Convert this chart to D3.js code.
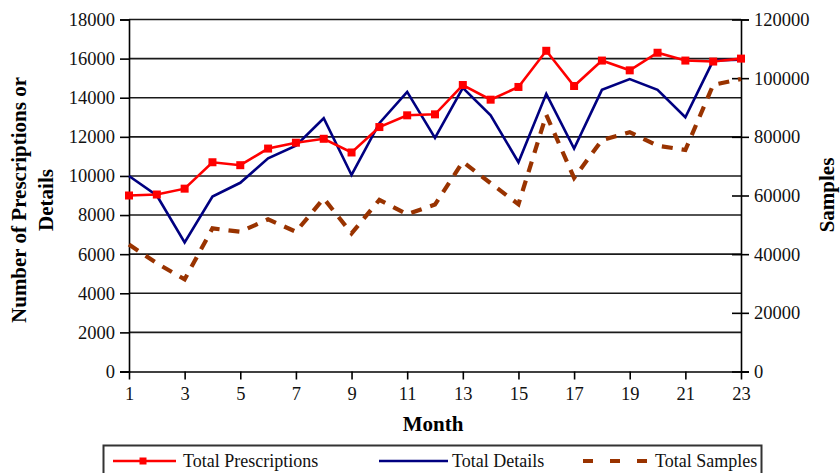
<!DOCTYPE html>
<html>
<head>
<meta charset="utf-8">
<script src="https://cdn.jsdelivr.net/npm/d3@7"></script>
<style>
  html, body { margin: 0; padding: 0; background: #fff; }
  svg { display: block; font-family: "Liberation Serif", "Times New Roman", serif; }
</style>
</head>
<body>
<svg id="chart" width="840" height="473"></svg>
<script>
// Monthly totals
const months = [1, 2, 3, 4, 5, 6, 7, 8, 9, 10, 11, 12, 13, 14, 15, 16, 17, 18, 19, 20, 21, 22, 23];
const monthTicks = [1, 3, 5, 7, 9, 11, 13, 15, 17, 19, 21, 23];
const prescriptions = [9000, 9050, 9350, 10700, 10550, 11400, 11700, 11900, 11200, 12500, 13100, 13150,
                       14650, 13900, 14550, 16400, 14600, 15900, 15400, 16300, 15900, 15850, 16000];
const details = [10000, 9000, 6600, 8950, 9650, 10900, 11550, 12950, 10050, 12700, 14300, 11950,
                 14500, 13100, 10700, 14200, 11400, 14400, 14950, 14400, 13000, 15900, 15950];
const samples = [43300, 36900, 31400, 48800, 47650, 51900, 47650, 59000, 47100, 58500, 53600, 56900,
                 71500, 64200, 57000, 87500, 66000, 78900, 81600, 77000, 75500, 97700, 99700];
const leftTicks = [0, 2000, 4000, 6000, 8000, 10000, 12000, 14000, 16000, 18000];
const rightTicks = [0, 20000, 40000, 60000, 80000, 100000, 120000];
const seriesNames = ["Total Prescriptions", "Total Details", "Total Samples"];

const svg = d3.select("#chart");
const plot = { left: 129, right: 741, top: 19.5, bottom: 371.5 };

const x = d3.scaleLinear().domain([1, 23]).range([plot.left, plot.right]);
const yL = d3.scaleLinear().domain([0, 18000]).range([plot.bottom, plot.top]);
const yR = d3.scaleLinear().domain([0, 120000]).range([plot.bottom, plot.top]);

// horizontal gridlines on the left-axis ticks
svg.append("g")
  .selectAll("line")
  .data(leftTicks.filter(d => d > 0))
  .join("line")
  .attr("x1", plot.left).attr("x2", plot.right)
  .attr("y1", d => yL(d)).attr("y2", d => yL(d))
  .attr("stroke", "#1a1a1a").attr("stroke-width", 1.6);

// left axis
const gL = svg.append("g").attr("transform", `translate(${plot.left},0)`)
  .call(d3.axisLeft(yL).tickValues(leftTicks).tickSize(9).tickPadding(5).tickFormat(d3.format("d")));
// bottom axis
const gB = svg.append("g").attr("transform", `translate(0,${plot.bottom})`)
  .call(d3.axisBottom(x).tickValues(monthTicks).tickSize(8).tickPadding(7).tickFormat(d3.format("d")));
// right axis, ticks crossing the line
const gR = svg.append("g").attr("transform", `translate(${plot.right},0)`)
  .call(d3.axisRight(yR).tickValues(rightTicks).tickSize(8).tickPadding(5).tickFormat(d3.format("d")));
gR.selectAll(".tick line").attr("x1", -9);

[gL, gB, gR].forEach(g => {
  g.selectAll(".domain").attr("stroke", "#000").attr("stroke-width", 1.6);
  g.selectAll(".tick line").attr("stroke", "#000").attr("stroke-width", 1.6);
  g.selectAll(".tick text").attr("fill", "#111").style("font-size", "18.5px")
    .style("font-family", "'Liberation Serif', 'Times New Roman', serif");
});
gB.select(".domain").attr("d", `M${plot.left - 9},0.5H${plot.right + 8}`);

// series lines
const lineL = d3.line().x((d, i) => x(months[i])).y(d => yL(d));
const lineR = d3.line().x((d, i) => x(months[i])).y(d => yR(d));

svg.append("path").datum(samples)
  .attr("d", lineR).attr("fill", "none")
  .attr("stroke", "#993300").attr("stroke-width", 4.2)
  .attr("stroke-dasharray", "11,9");

svg.append("path").datum(details)
  .attr("d", lineL).attr("fill", "none")
  .attr("stroke", "#000080").attr("stroke-width", 2.6)
  .attr("stroke-linejoin", "miter");

svg.append("path").datum(prescriptions)
  .attr("d", lineL).attr("fill", "none")
  .attr("stroke", "#ff0000").attr("stroke-width", 2.6);

const ms = 8;
svg.append("g").selectAll("rect")
  .data(prescriptions)
  .join("rect")
  .attr("x", (d, i) => x(months[i]) - ms / 2)
  .attr("y", d => yL(d) - ms / 2)
  .attr("width", ms).attr("height", ms)
  .attr("fill", "#ff0000");

// axis titles
svg.append("text")
  .attr("transform", "translate(26,200) rotate(-90)")
  .attr("text-anchor", "middle")
  .style("font-size", "21px").style("font-weight", "bold")
  .text("Number of Prescriptions or");
svg.append("text")
  .attr("transform", "translate(53,200) rotate(-90)")
  .attr("text-anchor", "middle")
  .style("font-size", "21px").style("font-weight", "bold")
  .text("Details");
svg.append("text")
  .attr("transform", "translate(834,195) rotate(-90)")
  .attr("text-anchor", "middle")
  .style("font-size", "21px").style("font-weight", "bold")
  .text("Samples");
svg.append("text")
  .attr("x", 433).attr("y", 431)
  .attr("text-anchor", "middle")
  .style("font-size", "21px").style("font-weight", "bold")
  .text("Month");

// legend
const lg = svg.append("g");
lg.append("rect")
  .attr("x", 103.5).attr("y", 445.5).attr("width", 658).attr("height", 40)
  .attr("fill", "none").attr("stroke", "#333").attr("stroke-width", 2);
const ly = 461;
lg.append("line").attr("x1", 113).attr("x2", 176).attr("y1", ly).attr("y2", ly)
  .attr("stroke", "#ff0000").attr("stroke-width", 2.6);
lg.append("rect").attr("x", 143 - 3.5).attr("y", ly - 3.5).attr("width", 7).attr("height", 7)
  .attr("fill", "#ff0000");
lg.append("line").attr("x1", 379).attr("x2", 448).attr("y1", ly).attr("y2", ly)
  .attr("stroke", "#000080").attr("stroke-width", 2.6);
lg.append("line").attr("x1", 583).attr("x2", 648).attr("y1", ly).attr("y2", ly)
  .attr("stroke", "#993300").attr("stroke-width", 4).attr("stroke-dasharray", "10,17");
const legendX = [183, 452, 655];
lg.selectAll("text.lbl").data(seriesNames).join("text")
  .attr("class", "lbl")
  .attr("x", (d, i) => legendX[i]).attr("y", ly + 6)
  .style("font-size", "18px").attr("fill", "#111")
  .text(d => d);
</script>
</body>
</html>
